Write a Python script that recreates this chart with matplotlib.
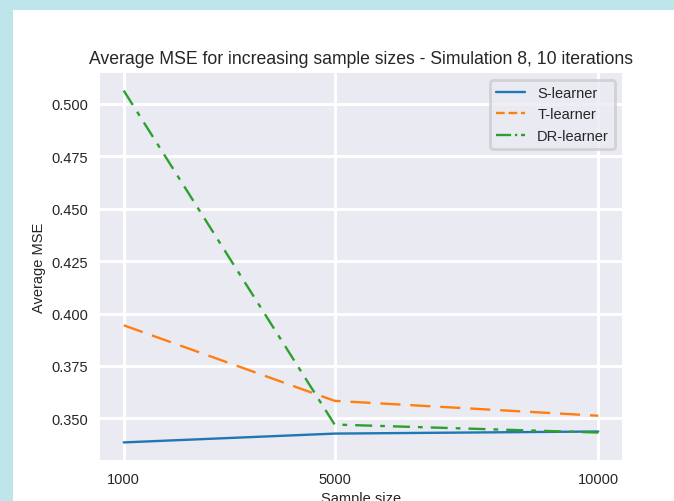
import matplotlib
matplotlib.use("Agg")
import matplotlib.pyplot as plt
from matplotlib.lines import Line2D
from matplotlib.patches import Rectangle

sample_sizes = [1000, 5000, 10000]
s_learner = [0.3386, 0.3428, 0.3438]
t_learner = [0.3944, 0.3584, 0.3513]
dr_learner = [0.5062, 0.3471, 0.3433]
labels = ["S-learner", "T-learner", "DR-learner"]

plt.style.use("seaborn-v0_8-darkgrid")
plt.rcParams["grid.linewidth"] = 2.1

W, H = 674, 502
fig = plt.figure(figsize=(W / 100, H / 100), dpi=100)
fig.patch.set_facecolor("#bde5ea")
# white sheet, offset by the light blue frame at left and top
fig.patches.append(Rectangle((13 / W, 0), 1, 1 - 11 / H, transform=fig.transFigure,
                             facecolor="white", edgecolor="none", zorder=-10))

ax = fig.add_axes([100 / W, (H - 461) / H, 522 / W, 387 / H])
lw = 1.7
l1, = ax.plot(sample_sizes, s_learner, linestyle="-", lw=lw)
l2, = ax.plot(sample_sizes, t_learner, linestyle=(0, (8.5, 4.2)), lw=lw)
l3, = ax.plot(sample_sizes, dr_learner, linestyle=(0, (7.2, 3.4, 2.0, 3.4)), lw=lw)

ax.set_xticks(sample_sizes)
ax.set_xticklabels([str(s) for s in sample_sizes])
ax.set_title("Average MSE for increasing sample sizes - Simulation 8, 10 iterations",
             fontsize=12.7, pad=7.5)
ax.set_xlabel("Sample size", fontsize=10.5)
ax.set_ylabel("Average MSE", fontsize=10.5)
ax.tick_params(labelsize=10.5, pad=8.5)

# legend handles keep the short default dash patterns seen in the original
handles = [
    Line2D([], [], color=l1.get_color(), lw=lw, linestyle="-"),
    Line2D([], [], color=l2.get_color(), lw=lw, linestyle="--"),
    Line2D([], [], color=l3.get_color(), lw=lw, linestyle="-."),
]
leg = ax.legend(handles, labels, loc="upper right", frameon=True, fontsize=10.5)
leg.get_frame().set_edgecolor("0.8")
leg.get_frame().set_linewidth(2)

fig.savefig("out.png", dpi=100)
